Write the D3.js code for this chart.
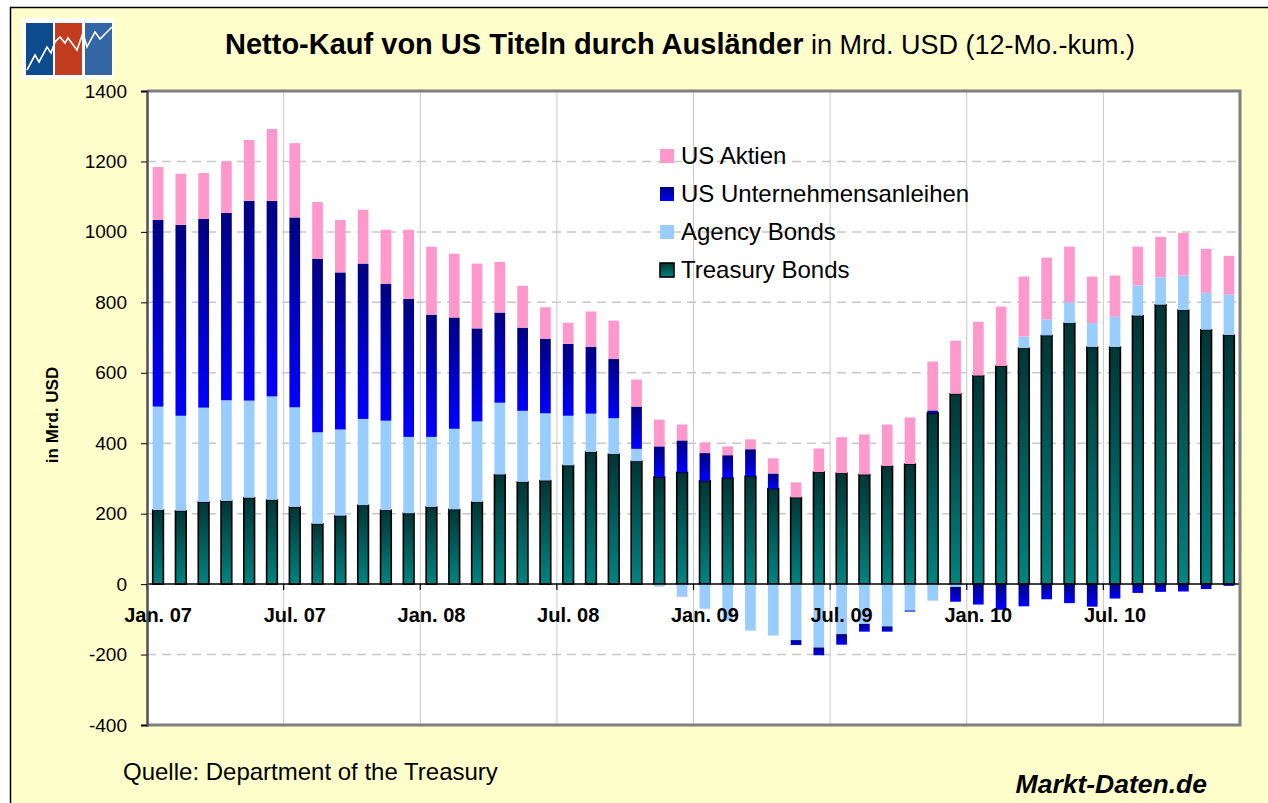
<!DOCTYPE html>
<html>
<head>
<meta charset="utf-8">
<script src="https://cdn.jsdelivr.net/npm/d3@7"></script>
<style>
  html, body { margin: 0; padding: 0; background: #fff; }
  svg { display: block; font-family: "Liberation Sans", Arial, sans-serif; }
</style>
</head>
<body>
<div id="chart"></div>
<script>
/* Netto-Kauf von US Titeln durch Auslaender, gestapelte Saeulen */

const categories = [
  "Jan. 07", "Feb. 07", "Mrz. 07", "Apr. 07", "Mai. 07", "Jun. 07",
  "Jul. 07", "Aug. 07", "Sep. 07", "Okt. 07", "Nov. 07", "Dez. 07",
  "Jan. 08", "Feb. 08", "Mrz. 08", "Apr. 08", "Mai. 08", "Jun. 08",
  "Jul. 08", "Aug. 08", "Sep. 08", "Okt. 08", "Nov. 08", "Dez. 08",
  "Jan. 09", "Feb. 09", "Mrz. 09", "Apr. 09", "Mai. 09", "Jun. 09",
  "Jul. 09", "Aug. 09", "Sep. 09", "Okt. 09", "Nov. 09", "Dez. 09",
  "Jan. 10", "Feb. 10", "Mrz. 10", "Apr. 10", "Mai. 10", "Jun. 10",
  "Jul. 10", "Aug. 10", "Sep. 10", "Okt. 10", "Nov. 10", "Dez. 10"
];

const treasuryBonds = [
  210, 208, 233, 236, 245, 239, 219, 171, 194, 224, 210, 201,
  219, 212, 233, 311, 290, 294, 337, 375, 369, 349, 304, 317,
  293, 301, 306, 271, 246, 318, 315, 311, 335, 341, 486, 540,
  592, 619, 670, 706, 741, 673, 673, 762, 793, 778, 722, 707
];

const agencyBonds = [
  294, 270, 268, 286, 276, 294, 283, 260, 245, 245, 254, 217,
  199, 229, 229, 204, 202, 191, 141, 109, 102, 35, -7, -36,
  -70, -104, -132, -146, -159, -180, -142, -113, -120, -75, -47, -8,
  0, 0, 33, 46, 59, 68, 86, 86, 78, 98, 105, 115
];

const corporateBonds = [
  530, 542, 536, 532, 567, 555, 539, 493, 446, 441, 389, 392,
  347, 316, 264, 256, 236, 212, 204, 190, 168, 120, 87, 91,
  79, 65, 77, 43, -14, -22, -30, -22, -15, -3, 7, -42,
  -58, -73, -63, -43, -54, -64, -41, -25, -22, -21, -14, -5
];

const usStocks = [
  150, 145, 130, 146, 173, 204, 211, 161, 149, 153, 153, 196,
  193, 181, 184, 144, 119, 89, 60, 100, 109, 77, 76, 45,
  30, 25, 28, 43, 43, 67, 102, 114, 118, 132, 139, 151,
  153, 169, 170, 175, 158, 132, 117, 110, 115, 121, 125, 110
];

const xTickLabels = ["Jan. 07", "Jul. 07", "Jan. 08", "Jul. 08", "Jan. 09", "Jul. 09", "Jan. 10", "Jul. 10"];
const yTicks = [-400, -200, 0, 200, 400, 600, 800, 1000, 1200, 1400];

const seriesKeys = ["treasury", "agency", "corporate", "stocks"];
const seriesNames = {
  stocks: "US Aktien",
  corporate: "US Unternehmensanleihen",
  agency: "Agency Bonds",
  treasury: "Treasury Bonds"
};

const data = categories.map((c, i) => ({
  cat: c,
  treasury: treasuryBonds[i],
  agency: agencyBonds[i],
  corporate: corporateBonds[i],
  stocks: usStocks[i]
}));

const width = 1268,
      height = 803,
      margin = ({ top: 91, right: 28, bottom: 78, left: 147 });

const svg = d3.select("#chart")
  .append("svg")
  .attr("width", width)
  .attr("height", height)
  .attr("viewBox", [0, 0, width, height]);

// gradients
const defs = svg.append("defs");
const gradTreasury = defs.append("linearGradient")
  .attr("id", "gTreasury").attr("x1", 0).attr("y1", 0).attr("x2", 0).attr("y2", 1);
gradTreasury.append("stop").attr("offset", "0%").attr("stop-color", "#003535");
gradTreasury.append("stop").attr("offset", "100%").attr("stop-color", "#008480");
const gradCorp = defs.append("linearGradient")
  .attr("id", "gCorp").attr("x1", 0).attr("y1", 0).attr("x2", 0).attr("y2", 1);
gradCorp.append("stop").attr("offset", "0%").attr("stop-color", "#000080");
gradCorp.append("stop").attr("offset", "100%").attr("stop-color", "#0000FF");

const fills = {
  stocks: "#FF99CC",
  corporate: "url(#gCorp)",
  agency: "#99CCFF",
  treasury: "url(#gTreasury)"
};

// background + frame
svg.append("rect")
  .attr("x", 10.5).attr("y", 7.5)
  .attr("width", width).attr("height", height)
  .attr("fill", "#FFFFCC")
  .attr("stroke", "#000").attr("stroke-width", 1.5);

// logo
const logo = svg.append("g");
logo.append("rect").attr("x", 22).attr("y", 18).attr("width", 92).attr("height", 61).attr("fill", "#fff");
[["#0B4B8E", 26], ["#C23C1F", 55], ["#3466A5", 85]].forEach(([c, x]) => {
  logo.append("rect").attr("x", x).attr("y", 23).attr("width", 27).attr("height", 52).attr("fill", c);
});
logo.append("polyline")
  .attr("points", "27,70 35,55 39,62 47,47 51,53 55,42 60,37 65,43 68,38 77,50 83,33 87,47 95,32 100,39 112,27")
  .attr("fill", "none").attr("stroke", "#fff").attr("stroke-width", 1.6);

// title
const title = svg.append("text")
  .attr("x", 680).attr("y", 54)
  .attr("text-anchor", "middle")
  .attr("fill", "#000");
title.append("tspan").attr("font-weight", "bold").attr("font-size", 29).text("Netto-Kauf von US Titeln durch Ausländer");
title.append("tspan").attr("font-size", 27).text(" in Mrd. USD (12-Mo.-kum.)");

// scales
const x = d3.scaleBand()
  .domain(categories)
  .range([margin.left, width - margin.right])
  .paddingInner(0.53)
  .paddingOuter(0.25);

const xb = d3.scaleLinear()
  .domain([0, categories.length])
  .range([margin.left, width - margin.right]);

const y = d3.scaleLinear()
  .domain([-400, 1400])
  .range([height - margin.bottom, margin.top]);

// plot area
svg.append("rect")
  .attr("x", margin.left).attr("y", margin.top)
  .attr("width", width - margin.right - margin.left)
  .attr("height", height - margin.bottom - margin.top)
  .attr("fill", "#fff");

// horizontal grid (dashed)
svg.append("g")
  .selectAll("line")
  .data(yTicks.filter(v => v !== 0 && v !== 1400 && v !== -400))
  .join("line")
  .attr("x1", margin.left).attr("x2", width - margin.right)
  .attr("y1", d => y(d)).attr("y2", d => y(d))
  .attr("stroke", "#C8C8C8").attr("stroke-width", 1.5)
  .attr("stroke-dasharray", "9,6");

// vertical grid
const boundaries = d3.range(6, categories.length, 6);
svg.append("g")
  .selectAll("line")
  .data(boundaries)
  .join("line")
  .attr("x1", d => xb(d)).attr("x2", d => xb(d))
  .attr("y1", margin.top).attr("y2", height - margin.bottom)
  .attr("stroke", "#C8C8C8").attr("stroke-width", 1);

// stacked bars
const stack = d3.stack()
  .keys(seriesKeys)
  .offset(d3.stackOffsetDiverging);
const series = stack(data);

svg.append("g")
  .selectAll("g")
  .data(series)
  .join("g")
  .attr("fill", d => fills[d.key])
  .attr("stroke", d => d.key === "treasury" ? "#000" : "none")
  .attr("stroke-width", 1.6)
  .selectAll("rect")
  .data(d => d.filter(p => p[1] - p[0] !== 0))
  .join("rect")
  .attr("x", d => x(d.data.cat))
  .attr("width", x.bandwidth())
  .attr("y", d => y(Math.max(d[0], d[1])))
  .attr("height", d => Math.abs(y(d[0]) - y(d[1])));

// zero line
svg.append("line")
  .attr("x1", margin.left).attr("x2", width - margin.right)
  .attr("y1", y(0)).attr("y2", y(0))
  .attr("stroke", "#000").attr("stroke-width", 1.5);

// x ticks at boundaries
svg.append("g")
  .selectAll("line")
  .data(d3.range(0, categories.length + 1, 6))
  .join("line")
  .attr("x1", d => xb(d)).attr("x2", d => xb(d))
  .attr("y1", y(0)).attr("y2", y(0) + 6)
  .attr("stroke", "#000").attr("stroke-width", 1.2);

// x labels
svg.append("g")
  .attr("transform", `translate(0,${y(0)})`)
  .call(d3.axisBottom(x).tickValues(xTickLabels).tickSize(0).tickPadding(0))
  .call(g => g.select(".domain").remove())
  .call(g => g.selectAll("text")
    .attr("dy", null)
    .attr("y", 38)
    .attr("font-family", "Liberation Sans, Arial, sans-serif")
    .attr("font-size", 20)
    .attr("font-weight", "bold")
    .attr("fill", "#000"));

// plot border
svg.append("path")
  .attr("d", `M${margin.left},${margin.top}H${width - margin.right}V${height - margin.bottom}H${margin.left}`)
  .attr("fill", "none").attr("stroke", "#808080").attr("stroke-width", 3);

// y axis
svg.append("g")
  .attr("transform", `translate(${margin.left},0)`)
  .call(d3.axisLeft(y).tickValues(yTicks).tickFormat(d => String(d)).tickSize(6).tickPadding(14))
  .call(g => g.select(".domain").attr("stroke", "#505050").attr("stroke-width", 2.5))
  .call(g => g.selectAll(".tick line").attr("stroke", "#000"))
  .call(g => g.selectAll("text")
    .attr("font-family", "Liberation Sans, Arial, sans-serif")
    .attr("font-size", 19)
    .attr("fill", "#000"));

// y title
svg.append("text")
  .attr("transform", `translate(58,415) rotate(-90)`)
  .attr("text-anchor", "middle")
  .attr("font-size", 17)
  .attr("font-weight", "bold")
  .text("in Mrd. USD");

// legend
const legendOrder = ["stocks", "corporate", "agency", "treasury"];
const legend = svg.append("g")
  .selectAll("g")
  .data(legendOrder)
  .join("g")
  .attr("transform", (d, i) => `translate(660,${149 + i * 38})`);
legend.append("rect")
  .attr("width", 14).attr("height", 14)
  .attr("fill", d => fills[d])
  .attr("stroke", d => d === "treasury" ? "#000" : "none")
  .attr("stroke-width", 1.6);
legend.append("text")
  .attr("x", 21).attr("y", 15)
  .attr("font-size", 24)
  .text(d => seriesNames[d]);

// footer
svg.append("text")
  .attr("x", 123).attr("y", 780)
  .attr("font-size", 24)
  .text("Quelle: Department of the Treasury");

svg.append("text")
  .attr("x", 1207).attr("y", 793)
  .attr("text-anchor", "end")
  .attr("font-size", 26.5)
  .attr("font-weight", "bold")
  .attr("font-style", "italic")
  .text("Markt-Daten.de");
</script>
</body>
</html>
